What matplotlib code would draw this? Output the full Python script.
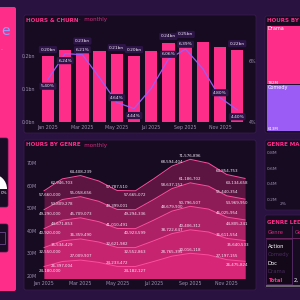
import numpy as np
import matplotlib.pyplot as plt
from matplotlib.patches import Rectangle, FancyBboxPatch, Wedge

# ----------------------------
# Data
# ----------------------------
months = ['Jan 2025', 'Feb 2025', 'Mar 2025', 'Apr 2025', 'May 2025', 'Jun 2025',
          'Jul 2025', 'Aug 2025', 'Sep 2025', 'Oct 2025', 'Nov 2025', 'Dec 2025']

hours_bn = [0.200, 0.218, 0.226, 0.215, 0.206, 0.200, 0.215, 0.240, 0.246, 0.242, 0.227, 0.218]
churn_pct = [5.40, 6.24, 6.21, 5.45, 4.64, 4.44, 5.10, 6.06, 6.39, 5.75, 4.80, 4.40]
bar_labelled = [0, 2, 4, 5, 7, 8, 11]
churn_labelled = [0, 1, 2, 4, 5, 7, 8, 10, 11]

# cumulative genre levels (hours), bottom -> top
level_1 = [24180000, 26397004, 27009907, 26000000, 24233472, 24182127,
           26400000, 28765395, 30016118, 29300000, 27197155, 26475824]
level_2 = [32550000, 35534429, 36359490, 35000000, 32621982, 32552863,
           35540000, 38722647, 40406312, 39440000, 36611554, 35640533]
level_3 = [40920000, 44671853, 45709073, 44000000, 41010491, 40923599,
           44680000, 48679900, 50796507, 49580000, 46025954, 44805241]
level_4 = [49290000, 53809278, 55058656, 53000000, 49399001, 49294336,
           53820000, 58637152, 61186702, 59720000, 55440354, 53969950]
level_5 = [57660000, 62946703, 64408239, 62000000, 57787510, 57665072,
           62960000, 68594404, 71576896, 69860000, 64854753, 63134658]
area_labelled = [0, 1, 2, 4, 5, 7, 8, 10, 11]
labels_below = [0, 1, 5, 11]        # months whose labels sit under the line
area_ticks = [20, 30, 40, 50, 60, 70]

tree_genres = ['Drama', 'Comedy']
tree_hours_m = [782, 613]

margin_ticks = [0.2, 0.4, 0.6, 0.8]

ledger_rows = ['Action', 'Comedy', 'Doc', 'Drama', 'Total']

# ----------------------------
# Colours
# ----------------------------
BG = '#2a1240'
PANEL = '#170b22'
PINK = '#ff2d8a'
PURPLE = '#9b5cf6'
GREY = '#9d8fb0'
LABEL_BOX = '#2c1446'

W = H = 300
fig = plt.figure(figsize=(3, 3), dpi=100, facecolor=BG)


def px_axes(x0, y0, x1, y1):
    ax = fig.add_axes([x0 / W, 1 - y1 / H, (x1 - x0) / W, (y1 - y0) / H])
    ax.set_facecolor('none')
    for s in ax.spines.values():
        s.set_visible(False)
    return ax


# background layer in pixel coordinates
bg = px_axes(0, 0, W, H)
bg.set_xlim(0, W)
bg.set_ylim(H, 0)
bg.axis('off')


def panel(x0, y0, x1, y1, fc=PANEL, ec='#3b1d52'):
    bg.add_patch(FancyBboxPatch((x0, y0), x1 - x0, y1 - y0,
                                boxstyle='round,pad=0,rounding_size=2',
                                fc=fc, ec=ec, lw=0.5))


# left pink card
panel(-6, 7, 16, 291, fc=PINK, ec='none')
bg.text(1, 31, 'e', color='#8fa0ff', fontsize=10, va='center', ha='left')
bg.text(1, 50, '-', color='#b9a6ff', fontsize=4, va='center', ha='left')
panel(-6, 138, 8, 207, fc='#1a0c24', ec='#40204f')
bg.add_patch(Wedge((-8, 189), 15, 180, 360, fc='white', ec='none'))
bg.text(7, 193, '0%', color='white', fontsize=3, va='center', ha='right')
panel(-6, 224, 8, 252, fc='#1a0c24', ec='#40204f')
bg.add_patch(Rectangle((-3, 232), 8, 12, fc='none', ec='#6a4a8a', lw=0.6))

# main panels
panel(24, 15, 256, 133)
panel(24, 140, 256, 290)
panel(265, 16, 306, 133)
panel(265, 140, 306, 210)
panel(265, 215, 306, 288)

for y, title in [(20, 'HOURS & CHURN'), (145, 'HOURS BY GENRE')]:
    bg.text(26, y, title, color=PINK, fontsize=4, weight='bold', va='center')
    bg.text(79, y, '·  monthly', color='#d8287f', fontsize=4, va='center')
for y, title in [(21, 'HOURS BY GENRE'), (145, 'GENRE MARGIN'), (222, 'GENRE LEDGER')]:
    bg.text(267, y, title, color=PINK, fontsize=4, weight='bold', va='center')

# ----------------------------
# Hours & churn (bars + line)
# ----------------------------
x = np.arange(len(months))
ax = px_axes(39, 36, 246, 122)
ax.bar(x, hours_bn, width=0.72, color=PINK, zorder=2)
ax.set_xlim(-0.52, 11.51)
ax.set_ylim(0, 0.2606)
ax.set_yticks([0, 0.1, 0.2], ['0.0bn', '0.1bn', '0.2bn'])
ax.set_xticks(x[::2], months[::2])
ax.tick_params(length=0, labelsize=3.4, colors=GREY, pad=2.5)
for i in bar_labelled:
    ax.annotate(f'{hours_bn[i]:.2f}bn', (i, hours_bn[i]), xytext=(0, 4.6),
                textcoords='offset points', ha='center', va='center',
                fontsize=3.2, color='#f3e9f7', zorder=5,
                bbox=dict(boxstyle='round,pad=0.35,rounding_size=0.3', fc=LABEL_BOX, ec='none'))

ax2 = ax.twinx()
ax2.set_facecolor('none')
for s in ax2.spines.values():
    s.set_visible(False)
ax2.plot(x, churn_pct, color=PURPLE, lw=0.9, zorder=3)
ax2.set_ylim(4, 6.82)
ax2.set_yticks([4, 6], ['4%', '6%'])
ax2.tick_params(length=0, labelsize=3.4, colors=GREY, pad=2)
for i in churn_labelled:
    dy = -5 if i in labels_below else 3.5
    ax2.annotate(f'{churn_pct[i]:.2f}%', (i, churn_pct[i]), xytext=(0, dy),
                 textcoords='offset points', ha='center', va='center',
                 fontsize=3.2, color='#f3e9f7', zorder=5,
                 bbox=dict(boxstyle='round,pad=0.35,rounding_size=0.3', fc=LABEL_BOX, ec='none'))

# ----------------------------
# Hours by genre (overlapping areas)
# ----------------------------
levels = [level_5, level_4, level_3, level_2, level_1]
axg = px_axes(40, 155, 250, 278)
for lvl in levels:
    vals = np.array(lvl) / 1e6
    axg.fill_between(x, 0, vals, color=PINK, alpha=0.3, lw=0)
    axg.plot(x, vals, color='#ff4d9e', lw=0.7)
    for i in area_labelled:
        dx = 4.3 if i == 0 else (-5.5 if i == len(months) - 1 else 0)
        below = i in labels_below
        axg.annotate(f'{lvl[i]:,}', (i, vals[i]), xytext=(dx, -1.5 if below else 1.2),
                     textcoords='offset points', ha='center',
                     va='top' if below else 'bottom',
                     fontsize=2.9, color='#f3e9f7')
axg.set_xlim(-0.22, 11.27)
axg.set_ylim(19.1, 73.5)
axg.set_yticks(area_ticks, [f'{t}M' for t in area_ticks])
axg.set_xticks(x[::2], months[::2])
axg.tick_params(length=0, labelsize=3.4, colors=GREY, pad=2.5)

# ----------------------------
# Treemap column
# ----------------------------
axt = px_axes(266, 25, 330, 131)
bottoms = np.cumsum([0] + tree_hours_m[:-1])
axt.bar(0.5, tree_hours_m, bottom=bottoms, width=1, color=[PINK, PURPLE],
        edgecolor=PANEL, lw=0.6)
axt.set_xlim(0, 1)
axt.set_ylim(sum(tree_hours_m), 0)
axt.axis('off')
for name, val, b in zip(tree_genres, tree_hours_m, bottoms):
    axt.text(0.03, b + 40, name, color='white', fontsize=3.6, va='center')
    axt.text(0.03, b + val - 20, f'{val}M', color='white', fontsize=2.8, va='center')

# ----------------------------
# Genre margin axis
# ----------------------------
axm = px_axes(279, 148, 330, 207)
axm.set_xlim(0, 1)
axm.set_ylim(0.096, 0.865)
axm.set_yticks(margin_ticks, [f'{t:.1f}M' for t in margin_ticks])
axm.set_xticks([])
axm.tick_params(length=0, labelsize=3.2, colors=GREY, pad=1.5)
axm.text(0.02, 0.135, '2%', color=GREY, fontsize=3.2, va='center')

# ----------------------------
# Genre ledger
# ----------------------------
bg.text(268, 232, 'Genre', color='#d8287f', fontsize=3.8, va='center')
bg.text(295, 232, 'Genre', color='#d8287f', fontsize=3.8, va='center')
bg.plot([266, 306], [238, 238], color='#7a2a6a', lw=0.6)
bg.add_patch(Rectangle((266, 239), 25.5, 45, fc='#120818', ec='#4a2a5e', lw=0.5))
bg.plot([292, 292], [226, 284], color='#5a2a6a', lw=0.5)
row_colors = ['white', '#4a2a5e', 'white', '#4a2a5e', PINK]
for k, (name, c) in enumerate(zip(ledger_rows, row_colors)):
    bg.text(268, 246 + k * 8.6, name, color=c, fontsize=3.8, va='center',
            weight='bold' if name == 'Total' else 'normal')
bg.text(294, 280, '2,', color='white', fontsize=3.8, va='center')
bg.add_patch(Rectangle((266, 284.5), 40, 2.5, fc='#6b6570', ec='none'))

fig.savefig('out.png', dpi=100, facecolor=BG)
